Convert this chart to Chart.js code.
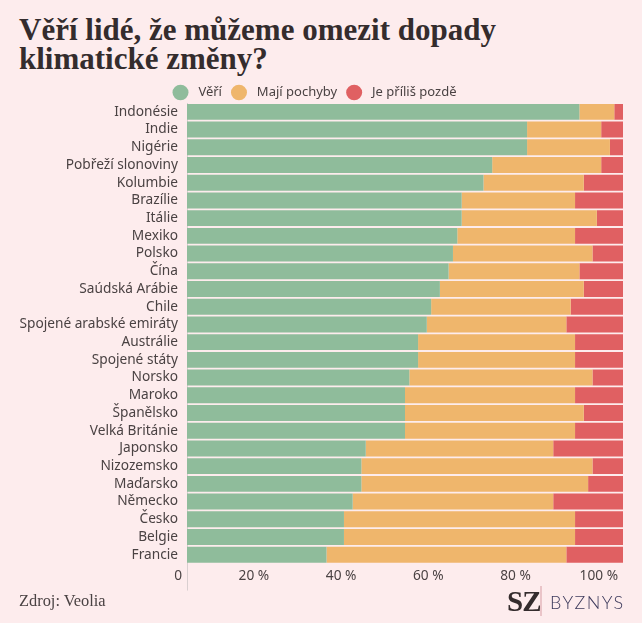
<!DOCTYPE html>
<html lang="cs">
<head>
<meta charset="utf-8">
<title>Věří lidé, že můžeme omezit dopady klimatické změny?</title>
<script src="https://cdn.jsdelivr.net/npm/chart.js@4"></script>
<style>
  html, body { margin: 0; padding: 0; background: #fdeced; }
  body { position: relative; width: 642px; height: 623px; overflow: hidden; }
  h1 {
    position: absolute; left: 19px; top: 15px; margin: 0;
    font: bold 31px/29px "Liberation Serif", serif; color: #342c2d;
    white-space: nowrap;
  }
  #wrap { position: absolute; left: 0; top: 0; width: 642px; height: 623px; }
  #source {
    position: absolute; left: 19px; top: 591px;
    font: 16.4px/20px "Liberation Serif", serif; color: #4a4243;
  }
  #logo { position: absolute; left: 507px; top: 586px; height: 30px; white-space: nowrap; }
  #logo .sz { font: bold 29px/30px "Liberation Serif", serif; color: #342c2d; letter-spacing: -1px; }
  #logo .sep { position: absolute; left: 33px; top: 0; width: 2px; height: 30px; background: #eac4c8; }
  #logo .byz { position: absolute; left: 43px; top: 5px; font: 300 18px/22px "Lato", sans-serif; color: #3d3a5c; letter-spacing: 1.4px; }
</style>
</head>
<body>
<h1>Věří lidé, že můžeme omezit dopady<br>klimatické změny?</h1>
<div id="wrap"><canvas id="chart" width="642" height="623"></canvas></div>
<div id="source">Zdroj: Veolia</div>
<div id="logo"><span class="sz">SZ</span><span class="sep"></span><span class="byz">BYZNYS</span></div>
<script>
// ===== DATA =====
const countries = ['Indonésie', 'Indie', 'Nigérie', 'Pobřeží slonoviny', 'Kolumbie', 'Brazílie', 'Itálie', 'Mexiko', 'Polsko', 'Čína', 'Saúdská Arábie', 'Chile', 'Spojené arabské emiráty', 'Austrálie', 'Spojené státy', 'Norsko', 'Maroko', 'Španělsko', 'Velká Británie', 'Japonsko', 'Nizozemsko', 'Maďarsko', 'Německo', 'Česko', 'Belgie', 'Francie'];
const believe = [90, 78, 78, 70, 68, 63, 63, 62, 61, 60, 58, 56, 55, 53, 53, 51, 50, 50, 50, 41, 40, 40, 38, 36, 36, 32];
const doubt = [8, 17, 19, 25, 23, 26, 31, 27, 32, 30, 33, 32, 32, 36, 36, 42, 39, 41, 39, 43, 53, 52, 46, 53, 53, 55];
const tooLate = [2, 5, 3, 5, 9, 11, 6, 11, 7, 10, 9, 12, 13, 11, 11, 7, 11, 9, 11, 16, 7, 8, 16, 11, 11, 13];
const xTickLabels = ['0', '20 %', '40 %', '60 %', '80 %', '100 %'];

const green = '#8fbc9b', orange = '#efb66c', red = '#e06062', axisColor = '#d9cfd0';
const textColor = '#4a4243', fontFamily = '"Noto Sans", sans-serif';
const font = { family: fontFamily, size: 13.7 };

// legend sits closer to the bars than Chart.js would put it
const tightLegend = {
  id: 'tightLegend',
  beforeInit(chart) {
    const fit = chart.legend.fit;
    chart.legend.fit = function () { fit.call(this); this.height -= 6; };
  }
};

// zero line runs on below the bars, past the tick labels
const zeroLine = {
  id: 'zeroLine',
  beforeDatasetsDraw(chart) {
    const { ctx, chartArea, scales } = chart;
    const x = scales.x.getPixelForValue(0);
    ctx.save();
    ctx.strokeStyle = axisColor;
    ctx.beginPath();
    ctx.moveTo(x + 0.5, chartArea.top);
    ctx.lineTo(x + 0.5, chartArea.bottom + 27);
    ctx.stroke();
    ctx.restore();
  }
};

new Chart(document.getElementById('chart'), {
  type: 'bar',
  data: {
    labels: countries,
    datasets: [
      { label: 'Věří', data: believe, backgroundColor: green },
      { label: 'Mají pochyby', data: doubt, backgroundColor: orange },
      { label: 'Je příliš pozdě', data: tooLate, backgroundColor: red }
    ]
  },
  plugins: [tightLegend, zeroLine],
  options: {
    indexAxis: 'y',
    responsive: false,
    animation: false,
    barPercentage: 1,
    categoryPercentage: 0.9,
    layout: { padding: { top: 77, right: 19, bottom: 35, left: 6 } },
    plugins: {
      tooltip: { enabled: false },
      legend: {
        position: 'top',
        labels: {
          usePointStyle: true, pointStyle: 'circle', pointStyleWidth: 16, boxHeight: 11,
          color: textColor, font: { family: fontFamily, size: 13 }, padding: 9,
          generateLabels: chart => Chart.defaults.plugins.legend.labels.generateLabels(chart)
            .map(l => ({ ...l, text: '\u00a0' + l.text }))
        }
      }
    },
    scales: {
      x: {
        stacked: true, min: 0, max: 100,
        ticks: {
          stepSize: 20, align: 'end', labelOffset: -5, padding: 4, maxRotation: 0,
          color: textColor, font,
          callback: (v, i) => xTickLabels[i]
        },
        border: { display: false },
        grid: { display: false, drawTicks: false }
      },
      y: {
        stacked: true,
        afterFit: s => { s.width = 181; },
        ticks: { color: textColor, font, autoSkip: false, padding: 9 },
        border: { display: false },
        grid: { display: false, drawTicks: false }
      }
    }
  }
});
</script>
</body>
</html>
